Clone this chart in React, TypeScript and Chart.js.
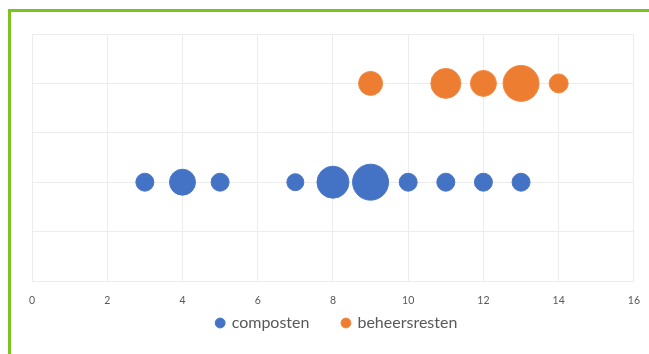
import React, { useEffect, useRef } from "react";
import { Chart, registerables } from "chart.js";

Chart.register(...registerables);

const compostenX = [3, 4, 5, 7, 8, 9, 10, 11, 12, 13];
const compostenY = [2, 2, 2, 2, 2, 2, 2, 2, 2, 2];
const compostenR = [9, 13, 9, 8.5, 16, 18, 9, 9, 9, 9];

const beheersX = [9, 11, 12, 13, 14];
const beheersY = [4, 4, 4, 4, 4];
const beheersR = [12, 15, 13, 18, 9.5];

const seriesNames = ["composten", "beheersresten"];
const xTicks = [0, 2, 4, 6, 8, 10, 12, 14, 16];

const LEGEND_FONT = 16;
const LEGEND_PAD = 33;
const LEGEND_CENTER_Y = 323;

const legendPlacer = {
  id: "legendPlacer",
  afterLayout(chart: any) {
    const lg = chart.legend;
    if (!lg) return;
    lg.top = LEGEND_CENTER_Y - LEGEND_PAD - LEGEND_FONT / 2;
    lg.bottom = chart.height;
    lg.height = lg.bottom - lg.top;
  },
};

export default function App() {
  const ref = useRef<HTMLCanvasElement>(null);
  useEffect(() => {
    if (!ref.current) return;
    const chart = new Chart(ref.current, {
      type: "bubble",
      data: {
        datasets: [
          {
            label: seriesNames[0],
            data: compostenX.map((x, i) => ({ x, y: compostenY[i], r: compostenR[i] })),
            backgroundColor: "#4472C4",
            borderColor: "#4a76c6",
            borderWidth: 1,
          },
          {
            label: seriesNames[1],
            data: beheersX.map((x, i) => ({ x, y: beheersY[i], r: beheersR[i] })),
            backgroundColor: "#ED7D31",
            borderColor: "#f08a44",
            borderWidth: 1,
          },
        ],
      },
      plugins: [legendPlacer],
      options: {
        responsive: false,
        animation: false,
        layout: { padding: { left: 32, right: 11, top: 34, bottom: 17 } },
        scales: {
          x: {
            type: "linear",
            min: 0,
            max: 16,
            afterBuildTicks: (axis: any) => {
              axis.ticks = xTicks.map((v) => ({ value: v }));
            },
            afterFit: (axis: any) => {
              axis.height = 26;
            },
            grid: { color: "#ececec", drawTicks: false },
            border: { display: false },
            ticks: {
              padding: 13,
              color: "#595959",
              font: { family: "Lato", size: 10.5 },
            },
          },
          y: {
            min: 0,
            max: 5,
            ticks: { display: false, stepSize: 1 },
            grid: { color: "#ececec", drawTicks: false },
            border: { display: false },
          },
        },
        plugins: {
          legend: {
            position: "bottom",
            maxHeight: 30,
            labels: {
              usePointStyle: true,
              pointStyle: "circle",
              boxWidth: 7,
              boxHeight: 7,
              color: "#595959",
              font: { family: "Lato", size: LEGEND_FONT },
              padding: LEGEND_PAD,
            },
          },
          tooltip: { enabled: false },
        },
      },
    });
    return () => chart.destroy();
  }, []);

  return (
    <div style={{ position: "absolute", left: 0, top: 0, width: 649, height: 354, background: "#fff", overflow: "hidden" }}>
      <div
        style={{
          position: "absolute",
          left: 8,
          top: 9,
          width: 641,
          height: 345,
          borderTop: "3px solid #7dc221",
          borderLeft: "3px solid #7dc221",
          boxSizing: "border-box",
        }}
      />
      <canvas ref={ref} width={653} height={354} style={{ position: "absolute", left: 0, top: 0 }} />
    </div>
  );
}
